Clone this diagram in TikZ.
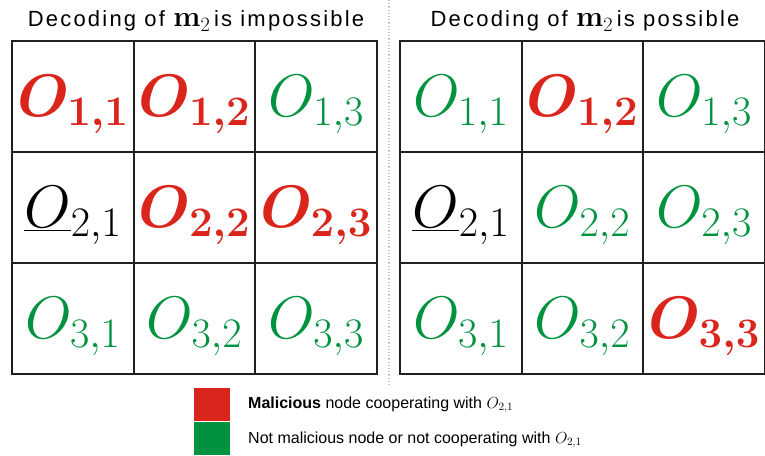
\RequirePackage{fix-cm}
\documentclass[tikz,border=0pt]{standalone}
\usepackage{amsmath}
\usepackage[no-math]{fontspec}
\setmainfont{Liberation Sans}
\newfontfamily\titlefont[LetterSpace=10]{Liberation Sans}
\newcommand{\mtwo}{{\fontsize{29}{29}\selectfont$\mathbf{m}_2$}}
\definecolor{myred}{HTML}{DA251D}
\definecolor{mygreen}{HTML}{00923F}
\definecolor{gridcol}{HTML}{231F20}
\begin{document}
\begin{tikzpicture}[x=1pt,y=-1pt,
  gridline/.style={line width=2pt, draw=gridcol, line cap=rect},
  lab/.style={anchor=base, inner sep=0pt, font=\fontsize{60}{60}\selectfont},
  mal/.style={lab, text=myred, font=\boldmath\fontsize{60}{60}\selectfont},
  good/.style={lab, text=mygreen},
  neutral/.style={lab, text=black},
  title/.style={anchor=base, inner sep=0pt, font=\titlefont\fontsize{22}{22}\selectfont},
  legtext/.style={anchor=base west, inner sep=0pt, font=\fontsize{16}{16}\selectfont},
  legbox/.style={anchor=north west, inner sep=0pt, minimum width=36, minimum height=33}]
\useasboundingbox (0,0) rectangle (765,455);
% separator
\coordinate (sepT) at (389,0);
\coordinate (sepB) at (389,386);
\draw[gray!45, dotted, line width=1.2pt] (sepT) -- (sepB);
% grids
\foreach \x in {12,133.67,255.33,377} \draw[gridline] (\x,41) -- (\x,374);
\foreach \y in {41,152,263,374} \draw[gridline] (12,\y) -- (377,\y);
\foreach \x in {400,521.67,643.33,765} \draw[gridline] (\x,41) -- (\x,374);
\foreach \y in {41,152,263,374} \draw[gridline] (400,\y) -- (765,\y);
% titles
\node[title] (tL) at (196,27) {Decoding of \mtwo\,is impossible};
\node[title] (tR) at (585,27) {Decoding of \mtwo\,is possible};
% left labels
\node[mal] (L11) at (72.8,116) {$O_{1,1}$};
\node[mal] (L12) at (194.5,116) {$O_{1,2}$};
\node[good] (L13) at (316.2,116) {$O_{1,3}$};
\node[neutral] (L21) at (72.8,227) {$\underline{O}_{2,1}$};
\node[mal] (L22) at (194.5,227) {$O_{2,2}$};
\node[mal] (L23) at (316.2,227) {$O_{2,3}$};
\node[good] (L31) at (72.8,338) {$O_{3,1}$};
\node[good] (L32) at (194.5,338) {$O_{3,2}$};
\node[good] (L33) at (316.2,338) {$O_{3,3}$};
% right labels
\node[good] (R11) at (460.8,116) {$O_{1,1}$};
\node[mal] (R12) at (582.5,116) {$O_{1,2}$};
\node[good] (R13) at (704.2,116) {$O_{1,3}$};
\node[neutral] (R21) at (460.8,227) {$\underline{O}_{2,1}$};
\node[good] (R22) at (582.5,227) {$O_{2,2}$};
\node[good] (R23) at (704.2,227) {$O_{2,3}$};
\node[good] (R31) at (460.8,338) {$O_{3,1}$};
\node[good] (R32) at (582.5,338) {$O_{3,2}$};
\node[mal] (R33) at (704.2,338) {$O_{3,3}$};
% legend
\node[legbox, fill=myred] (boxR) at (194,388) {};
\node[legbox, fill=mygreen] (boxG) at (194,422) {};
\node[legtext] (txR) at (248,408) {\textbf{Malicious} node cooperating with {\fontsize{16}{16}\selectfont$O_{2,1}$}};
\node[legtext] (txG) at (248,443) {Not malicious node or not cooperating with {\fontsize{16}{16}\selectfont$O_{2,1}$}};
\end{tikzpicture}
\end{document}
